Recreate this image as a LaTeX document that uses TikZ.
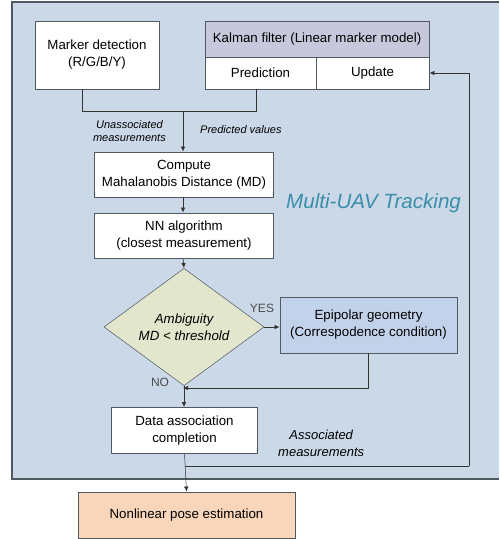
\documentclass[tikz,border=0pt]{standalone}
\usepackage{fontspec}
\setmainfont{Liberation Sans}
\usetikzlibrary{arrows.meta,shapes.geometric}
\definecolor{panel}{HTML}{CAD8E8}
\definecolor{edge}{HTML}{505860}
\definecolor{khead}{HTML}{C8C8DC}
\definecolor{dia}{HTML}{E2E6CC}
\definecolor{epic}{HTML}{C2D2EA}
\definecolor{peach}{HTML}{F9D6BA}
\definecolor{teal}{HTML}{3A8EA8}
\tikzset{
  box/.style={draw=edge,line width=0.9pt,fill=white,inner sep=0pt,align=center,font=\fontsize{13.3}{17}\selectfont},
  lab/.style={font=\itshape\fontsize{11}{13}\selectfont,align=center,inner sep=0pt},
  conn/.style={draw=black!80,line width=0.7pt},
  arr/.style={conn,-{Latex[length=5pt,width=4.5pt]}},
}
\begin{document}
\begin{tikzpicture}[x=1pt,y=-1pt]
\useasboundingbox (0,0) rectangle (499,539);
% panel
\fill[panel] (12,2) rectangle (499,479);
\draw[edge,line width=1.2pt] (499,2) -- (12,2) -- (12,479) -- (499,479);
% nodes
\node[box,minimum width=124pt,minimum height=68pt] (md) at (97,55) {Marker detection\\(R/G/B/Y)};
\node[box,fill=khead,minimum width=224pt,minimum height=36pt] (kal) at (317,39) {Kalman filter (Linear marker model)};
\node[box,minimum width=111pt,minimum height=32pt] (pred) at (260.5,73) {Prediction};
\node[box,minimum width=113pt,minimum height=32pt] (upd) at (372.5,73) {Update};
\node[box,minimum width=179pt,minimum height=45pt] (comp) at (184,174.5) {Compute\\Mahalanobis Distance (MD)};
\node[box,minimum width=179pt,minimum height=45pt] (nn) at (184,235.5) {NN algorithm\\(closest measurement)};
\node[draw=edge,line width=0.5pt,fill=dia,diamond,minimum width=160pt,minimum height=96pt,inner sep=0pt,align=center,font=\itshape\fontsize{13.3}{17}\selectfont] (dm) at (184,327) {Ambiguity\\MD < threshold};
\node[box,fill=epic,minimum width=177pt,minimum height=56pt] (epi) at (368.5,325) {Epipolar geometry\\(Correspodence condition)};
\node[box,minimum width=146pt,minimum height=46pt] (data) at (184.5,430.5) {Data association\\completion};
\node[box,fill=peach,minimum width=217pt,minimum height=46pt] (nl) at (186.5,515) {Nonlinear pose estimation};
% labels
\node[lab,anchor=east] (ua) at (166,131) {Unassociated\\measurements};
\node[lab,anchor=west] (pv) at (200,130) {Predicted values};
\node[font=\itshape\fontsize{20.6}{24}\selectfont,text=teal,inner sep=0pt,anchor=west] (mt) at (286,203) {Multi-UAV Tracking};
\node[font=\fontsize{12}{14}\selectfont,text=black!70,inner sep=0pt] (yes) at (262,308) {YES};
\node[font=\fontsize{12}{14}\selectfont,text=black!70,inner sep=0pt] (no) at (160,382) {NO};
\node[lab,anchor=west,font=\itshape\fontsize{13}{16.5}\selectfont] (am) at (278,443.5) {Associated\\measurements};
% coordinates
\coordinate (j) at (183,111);
\coordinate (m) at (183,388);
\coordinate (f) at (184.5,466);
\coordinate (r) at (469,466);
% connectors
\draw[conn] ([xshift=-15pt]md.south) |- (j);
\draw[conn] ([xshift=-4pt]pred.south) |- (j);
\draw[arr] (j) -- (comp.north -| j);
\draw[arr] (comp.south -| j) -- (nn.north -| j);
\draw[arr] (nn.south -| j) -- (dm.north);
\draw[arr] (dm.east) -- (epi.west |- dm.east);
\draw[arr] (epi.south) |- (m);
\draw[arr] (dm.south) -- (data.north -| dm.south);
\draw[arr,line width=0.5pt] (data.south) -- (nl.north);
\draw[conn] (f) -- (r);
\draw[arr] (r) |- (upd.east);
\end{tikzpicture}
\end{document}
